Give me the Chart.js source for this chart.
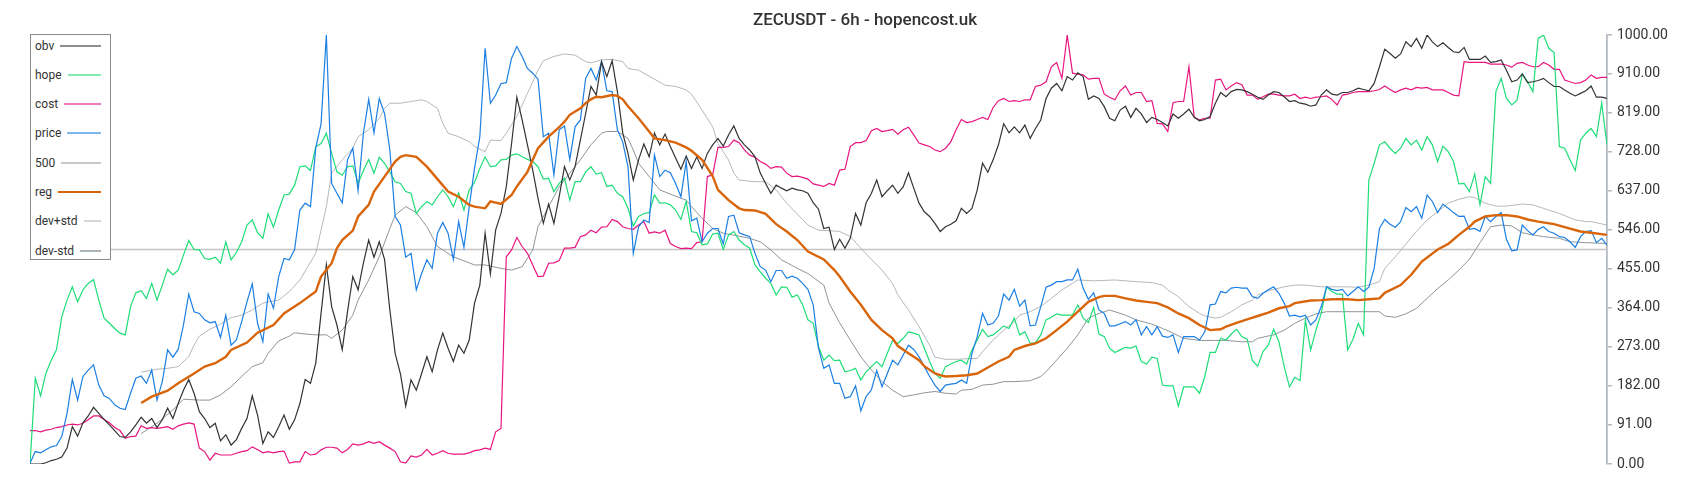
<!DOCTYPE html>
<html>
<head>
<meta charset="utf-8">
<script src="https://cdn.jsdelivr.net/npm/chart.js@4.4.1/dist/chart.umd.min.js"></script>
<style>
html,body{margin:0;padding:0;background:#fff;}
#wrap{position:relative;width:1700px;height:500px;}
#c{position:absolute;left:0;top:0;}
#legend{position:absolute;left:30px;top:34px;width:79px;height:224px;border:1.5px solid #8a8a8a;background:#fff;
  font-family:Roboto,"Noto Sans",sans-serif;font-size:12px;color:#333;}
.item{position:absolute;left:4px;right:9px;height:16px;display:flex;align-items:center;}
.item span.sw{flex:1;height:2px;margin-left:6px;}
</style>
</head>
<body>
<div id="wrap">
<canvas id="c" width="1700" height="500"></canvas>
<div id="legend"></div>
</div>
<script>
// ---------- data (normalised 0..1000, one value per 6h candle) ----------
const titleText = 'ZECUSDT - 6h - hopencost.uk';
const yTicks = [0, 91, 182, 273, 364, 455, 546, 637, 728, 819, 910, 1000];
const level500 = [[0, 500], [298, 500]];

const obv = [0,0,0,3,8,11,16,37,87,65, 96,112,132,118,104,91,78,64,62,75, 91,109,95,106,85,103,130,106,141,172,
 197,165,122,106,85,95,54,68,44,57, 83,106,159,114,48,75,62,87,114,81, 103,141,197,188,235,351,464,367,324,266,
 355,437,406,468,522,482,518,477,359,258, 210,135,196,172,211,250,215,266,305,270, 239,277,258,289,375,417,538,443,546,584,
 646,747,855,802,744,685,619,561,606,561, 623,693,662,693,755,817,880,860,938,903, 940,868,772,724,662,709,746,716,771,744,
 769,740,713,687,718,689,716,689,724,744, 759,741,767,788,759,744,732,716,678,654, 631,650,643,637,643,639,637,631,609,594,
 549,552,500,524,503,526,584,557,609,631, 662,623,637,650,631,646,679,643,608,588, 577,561,542,553,559,567,596,584,596,639,
 701,680,709,744,793,772,786,772,790,759, 782,802,852,876,887,870,903,895,912,903, 850,858,852,833,806,800,825,834,808,829,
 816,796,808,803,796,788,816,806,816,827, 808,800,803,810,841,866,856,868,873,872, 868,862,855,850,860,868,866,856,845,847,
 841,839,834,837,860,872,862,860,866,866, 870,876,873,870,887,926,967,957,946,956, 984,973,992,969,1000,984,973,982,971,961,
 959,971,943,943,943,951,936,938,942,918, 891,895,909,889,891,894,899,889,880,880, 872,864,858,864,870,881,855,855,852];

const hope = [0,200,159,211,242,266,343,382,413,378, 406,421,430,382,340,328,316,305,301,367, 399,404,386,421,382,417,454,441,452,487,
 521,500,499,479,477,482,468,518,476,493, 518,557,569,539,526,583,552,592,627,629, 650,693,695,684,740,747,771,724,681,673,
 693,695,654,684,710,678,715,701,681,658, 654,635,631,584,600,612,604,623,639,623, 600,632,592,639,656,689,716,693,695,709,
 710,720,723,716,710,705,693,664,666,635, 654,666,615,658,658,681,693,676,679,647, 650,631,623,596,555,577,584,586,627,608,
 609,604,592,570,612,542,539,511,513,536, 538,500,534,542,522,511,503,464,448,433, 421,394,413,412,389,394,371,336,328,274,
 242,254,241,242,215,218,223,196,215,227, 239,227,258,288,281,293,308,305,301,270, 239,211,200,227,233,239,242,233,266,289,
 314,297,301,311,322,316,340,301,308,281, 283,301,336,342,350,347,347,347,371,340, 330,365,303,297,270,260,266,272,270,275,
 239,233,249,246,184,182,182,135,180,180, 180,165,204,260,260,293,289,303,314,297, 291,241,228,262,277,314,285,227,180,202,
 194,336,266,312,351,413,402,396,396,266, 291,328,301,662,701,744,751,736,724,736, 759,744,755,732,763,744,705,741,728,705,
 653,654,635,676,604,670,654,868,899,852, 837,848,909,891,868,992,1000,969,959,740, 736,709,684,755,771,782,763,841,744];

const cost = [78,78,75,79,81,85,87,91,93,91, 95,103,112,112,104,96,85,78,60,64, 65,89,83,85,83,85,87,81,89,93,
 96,93,37,29,9,25,21,21,21,25, 29,31,40,34,26,29,26,29,30,2, 5,5,29,21,23,33,39,39,37,26,
 34,47,44,47,52,48,52,44,37,29, 5,2,19,16,21,34,21,25,31,25, 23,23,23,26,31,33,37,34,75,83,
 483,499,528,507,491,464,437,438,468,469, 474,503,503,505,530,534,545,539,552,553, 570,565,553,549,547,557,565,538,541,538,
 545,514,507,502,503,502,516,518,670,674, 738,738,740,755,749,732,720,715,705,699, 689,693,692,678,670,671,668,664,653,650,
 647,654,650,685,687,740,749,749,754,777, 782,775,777,780,769,779,785,767,748,744, 740,732,728,736,751,779,803,796,798,803,
 808,803,831,847,852,845,847,845,849,849, 880,883,891,926,936,899,1000,911,909,907, 897,899,899,862,855,849,870,881,860,866,
 866,845,847,794,793,775,842,845,845,926, 808,802,806,806,895,897,872,881,889,884, 860,860,850,856,862,862,860,858,858,862,
 852,855,852,855,856,858,850,837,860,862, 866,868,868,868,870,873,881,873,866,872, 876,872,878,876,878,872,872,872,866,860,
 858,938,936,936,936,936,932,932,932,930, 925,934,936,930,926,926,936,930,920,920, 895,891,887,889,895,907,899,901,901];

const price = [2,29,26,33,40,43,64,118,197,149, 204,219,231,184,159,153,138,130,127,165, 200,205,188,219,149,192,266,249,267,324,
 396,355,351,336,329,332,295,347,277,289, 332,378,420,328,285,396,363,437,479,476, 500,592,608,600,737,793,1000,654,631,609,
 709,736,637,771,850,772,852,817,732,577, 557,482,491,406,444,476,456,538,563,538, 477,565,505,600,689,763,969,841,860,887,
 889,946,973,950,922,911,897,763,771,674, 779,788,710,786,802,899,922,895,938,870, 868,779,751,693,491,553,569,563,720,670,
 685,679,654,623,705,567,573,518,538,549, 549,513,577,580,539,534,530,491,460,452, 425,451,451,433,438,433,421,407,371,270,
 223,231,188,188,153,157,182,124,157,173, 218,180,211,242,231,254,277,267,250,227, 204,184,169,184,186,188,196,188,258,297,
 351,324,328,345,396,382,407,368,382,322, 324,367,412,417,425,425,429,429,454,410, 384,399,359,351,322,322,327,332,324,336,
 301,320,301,320,298,295,301,260,297,297, 297,289,308,371,373,402,399,410,412,410, 410,390,386,398,406,413,398,375,345,347,
 343,347,324,336,367,413,407,404,407,392, 402,413,402,412,456,549,570,559,552,565, 598,588,600,573,627,612,586,606,596,586,
 577,578,547,549,542,577,565,577,586,524, 497,499,557,544,534,547,553,542,538,530, 528,518,505,530,542,544,516,526,510];

// smooth series: [candle index, value]
const reg = [[21,142],[23,157],[26,171],[28,188],[31,211],[33,227],[35,235],[37,250],[38,266],[41,283],[43,306],[46,324],[48,351],[51,375],[54,402],[55,437],[57,468],[58,503],[59,522],[61,544],[62,577],[64,604],[65,635],[67,670],[69,705],[70,716],[71,720],[73,716],[75,693],[77,664],[79,635],[81,623],[83,604],[84,600],[86,596],[87,612],[89,606],[91,627],[92,647],[94,681],[95,709],[96,736],[98,763],[100,785],[101,798],[102,814],[104,829],[105,841],[106,850],[107,856],[108,855],[110,860],[111,858],[112,850],[113,834],[115,806],[117,775],[118,759],[120,755],[122,749],[124,738],[125,730],[127,709],[129,671],[130,639],[132,615],[134,596],[135,592],[137,591],[139,583],[141,559],[143,542],[145,522],[147,495],[150,477],[152,452],[153,437],[155,402],[157,371],[159,336],[161,312],[163,293],[164,275],[166,258],[168,242],[169,228],[171,211],[172,207],[173,204],[175,205],[177,207],[179,211],[181,225],[183,239],[185,250],[186,266],[188,275],[190,281],[192,293],[194,312],[196,332],[198,355],[200,378],[202,389],[203,392],[205,392],[207,386],[209,381],[211,378],[213,375],[215,365],[217,351],[219,340],[221,324],[223,312],[225,314],[226,320],[228,329],[230,337],[232,345],[234,353],[236,363],[238,368],[239,375],[242,381],[244,382],[246,384],[249,384],[251,382],[253,384],[255,386],[256,399],[259,417],[261,441],[263,472],[266,500],[268,513],[270,534],[272,553],[273,565],[275,577],[277,580],[279,580],[281,577],[283,570],[285,565],[288,559],[290,552],[293,542],[295,539],[298,534]];

const devPlus = [[21,214],[24,221],[26,223],[28,227],[30,250],[31,277],[32,298],[34,314],[36,326],[38,341],[40,347],[42,359],[44,375],[45,378],[47,382],[49,402],[51,429],[54,491],[55,545],[56,600],[57,678],[59,709],[61,736],[62,763],[64,779],[66,806],[67,829],[68,841],[70,841],[72,845],[74,849],[75,845],[77,829],[78,794],[79,771],[81,763],[83,751],[84,740],[86,728],[87,755],[89,754],[90,771],[92,810],[94,864],[96,918],[97,940],[99,950],[101,956],[103,953],[105,938],[106,935],[108,942],[110,943],[112,938],[113,922],[115,918],[117,904],[120,883],[122,880],[124,872],[125,862],[127,825],[129,786],[130,747],[132,709],[133,678],[134,662],[137,658],[139,658],[141,639],[143,608],[146,570],[147,557],[149,545],[151,544],[153,542],[155,530],[157,503],[159,477],[161,452],[163,421],[164,394],[166,359],[168,320],[170,277],[171,249],[173,244],[175,244],[178,246],[179,246],[180,262],[182,289],[184,312],[186,332],[187,347],[189,355],[191,367],[193,386],[195,406],[197,421],[198,429],[201,427],[205,429],[209,425],[212,423],[214,417],[215,406],[217,390],[219,367],[221,351],[222,345],[224,340],[225,342],[227,355],[229,371],[231,382],[232,394],[234,404],[237,413],[239,417],[241,417],[244,413],[246,413],[249,413],[251,412],[253,417],[255,425],[256,456],[258,483],[260,513],[262,542],[264,569],[266,588],[268,608],[270,617],[272,623],[273,621],[275,608],[277,601],[279,601],[282,606],[284,604],[287,592],[289,584],[292,569],[294,565],[295,565],[298,557]];

const devMinus = [[21,71],[24,95],[27,126],[29,151],[32,149],[34,149],[36,161],[38,180],[40,204],[42,227],[44,236],[45,258],[47,287],[49,298],[50,306],[52,303],[54,301],[56,301],[57,293],[59,312],[61,347],[62,382],[64,429],[66,483],[68,549],[69,580],[71,600],[73,586],[75,553],[77,507],[80,483],[84,464],[86,464],[89,456],[91,452],[93,460],[95,499],[96,553],[98,600],[100,646],[102,678],[104,709],[106,744],[108,771],[109,775],[111,775],[113,759],[114,732],[115,701],[117,670],[119,639],[121,629],[124,615],[125,600],[127,573],[129,549],[131,538],[134,531],[136,526],[138,518],[140,499],[142,476],[145,456],[147,444],[150,417],[151,375],[153,329],[155,289],[157,250],[159,219],[161,192],[163,172],[165,157],[167,161],[169,166],[171,169],[173,165],[175,163],[176,172],[178,174],[180,184],[182,186],[184,192],[186,192],[189,194],[191,204],[192,215],[194,242],[196,270],[198,301],[200,340],[202,351],[204,359],[207,347],[209,336],[212,326],[214,316],[216,305],[218,293],[221,288],[224,288],[226,288],[229,285],[231,285],[232,293],[235,301],[237,312],[239,328],[241,340],[243,350],[245,355],[248,355],[250,355],[253,355],[255,355],[256,345],[258,342],[260,350],[262,363],[264,386],[266,409],[268,429],[270,452],[272,477],[274,516],[276,553],[278,557],[280,555],[282,539],[284,534],[286,530],[289,526],[291,518],[294,516],[296,515],[298,514]];

// ---------- build ----------
const seq = arr => arr.map((v, i) => ({x: i, y: v}));
const pairs = arr => arr.map(p => ({x: p[0], y: p[1]}));

const series = [
  {label:'reg', data: pairs(reg), color:'#d9650b', legend:'#d4650c', width:2.4},
  {label:'obv', data: seq(obv), color:'#333333', legend:'#8e8e8e', width:1.2},
  {label:'price', data: seq(price), color:'#1b7fe3', legend:'#7cb8ee', width:1.2},
  {label:'hope', data: seq(hope), color:'#1fdc78', legend:'#80eab0', width:1.2},
  {label:'cost', data: seq(cost), color:'#e8157f', legend:'#f07cba', width:1.2},
  {label:'dev+std', data: pairs(devPlus), color:'#b3b8bc', legend:'#d3d7da', width:1},
  {label:'dev-std', data: pairs(devMinus), color:'#8c959b', legend:'#aab3b8', width:1},
  {label:'500', data: pairs(level500), color:'#c4c4c4', legend:'#c8c8c8', width:1.6}
];

const legendOrder = ['obv','hope','cost','price','500','reg','dev+std','dev-std'];
const lg = document.getElementById('legend');
legendOrder.forEach((name, k) => {
  const s = series.find(d => d.label === name);
  const row = document.createElement('div');
  row.className = 'item';
  row.style.top = (2.5 + k * 29.3) + 'px';
  const t = document.createElement('span'); t.textContent = name;
  const sw = document.createElement('span'); sw.className = 'sw'; sw.style.background = s.legend;
  row.appendChild(t); row.appendChild(sw); lg.appendChild(row);
});

new Chart(document.getElementById('c'), {
  type: 'line',
  data: {
    datasets: series.map(s => ({
      label: s.label, data: s.data, borderColor: s.color, backgroundColor: s.color,
      borderWidth: s.width, pointRadius: 0, tension: 0, fill: false
    }))
  },
  options: {
    responsive: false, animation: false, devicePixelRatio: 1,
    layout: {padding: {left: 30, right: 0, top: 0, bottom: 36}},
    plugins: {
      legend: {display: false}, tooltip: {enabled: false},
      title: {display: true, text: titleText, color: '#333',
        font: {family: 'Roboto', size: 17, weight: 500}, padding: {top: 10.5, bottom: 4.1}}
    },
    scales: {
      x: {type: 'linear', min: 0, max: 298, display: false},
      y: {position: 'right', min: 0, max: 1000,
        afterBuildTicks: sc => { sc.ticks = yTicks.map(v => ({value: v})); },
        afterFit: sc => { sc.width = 93; },
        ticks: {color: '#333', padding: 5, font: {family: 'Roboto', size: 14}, callback: v => Number(v).toFixed(2)},
        grid: {drawOnChartArea: false, drawTicks: true, tickLength: 5, color: '#b4bcc2', lineWidth: 1.5},
        border: {color: '#b4bcc2', width: 1.8}
      }
    }
  }
});
</script>
</body>
</html>
